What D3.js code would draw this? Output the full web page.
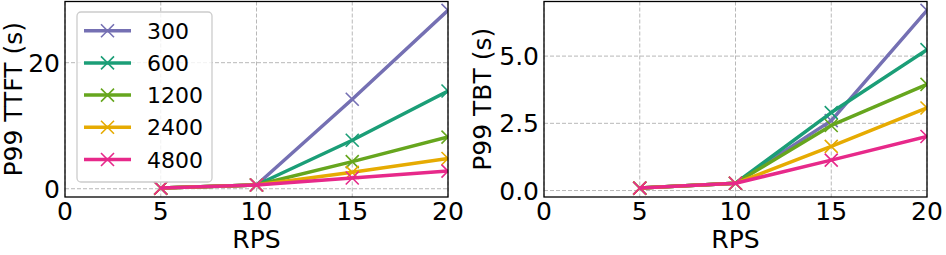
<!DOCTYPE html>
<html lang="en">
<head>
<meta charset="UTF-8">
<title>P99 latency vs RPS</title>
<script src="https://cdn.jsdelivr.net/npm/d3@7/dist/d3.min.js"></script>
<style>
    body { margin: 0; background: #fff; }
    svg { font-family: "DejaVu Sans", sans-serif; }
</style>
</head>
<body>
<div id="chart"></div>
<script>
// data
var rps = [5, 10, 15, 20];
var series = ["300", "600", "1200", "2400", "4800"];
var colors = ["#7570b3", "#1b9e77", "#66a61e", "#e6ab02", "#e7298a"];
var ttft = [
    [0.1, 0.6, 14.2, 28.3],
    [0.1, 0.6, 7.7, 15.5],
    [0.1, 0.6, 4.3, 8.2],
    [0.1, 0.6, 2.6, 4.8],
    [0.1, 0.6, 1.7, 2.8]
];
var tbt = [
    [0.09, 0.27, 2.6, 6.7],
    [0.09, 0.27, 2.9, 5.24],
    [0.09, 0.27, 2.42, 3.95],
    [0.09, 0.27, 1.64, 3.07],
    [0.09, 0.27, 1.13, 2.01]
];
var xTicks = [0, 5, 10, 15, 20];
var ttftTicks = [0, 20];
var tbtTicks = [0, 2.5, 5.0];

var W = 946, H = 255;
var svg = d3.select("#chart").append("svg")
    .attr("width", W).attr("height", H);

function panel(opts) {
    var vals = d3.merge(opts.data);
    var lo = d3.min(vals), hi = d3.max(vals), pad = (hi - lo) * 0.05;
    var x = d3.scaleLinear().domain([0, 20]).range([opts.left, opts.right]);
    var y = d3.scaleLinear().domain([lo - pad, hi + pad]).range([opts.bottom, opts.top]);
    var g = svg.append("g");

    g.append("clipPath").attr("id", opts.id)
        .append("rect")
        .attr("x", opts.left).attr("y", opts.top)
        .attr("width", opts.right - opts.left).attr("height", opts.bottom - opts.top);

    // grid
    g.selectAll(".gx").data(xTicks).enter().append("line")
        .attr("x1", d => x(d)).attr("x2", d => x(d))
        .attr("y1", opts.top).attr("y2", opts.bottom)
        .attr("stroke", "#b8b8b8").attr("stroke-width", 1).attr("stroke-dasharray", "4,2");
    g.selectAll(".gy").data(opts.yTicks).enter().append("line")
        .attr("x1", opts.left).attr("x2", opts.right)
        .attr("y1", d => y(d)).attr("y2", d => y(d))
        .attr("stroke", "#b8b8b8").attr("stroke-width", 1).attr("stroke-dasharray", "4,2");

    var plot = g.append("g").attr("clip-path", "url(#" + opts.id + ")");
    var line = d3.line().x((d, i) => x(rps[i])).y(d => y(d));
    opts.data.forEach(function (s, k) {
        plot.append("path").datum(s)
            .attr("d", line)
            .attr("fill", "none")
            .attr("stroke", colors[k])
            .attr("stroke-width", 3.5)
            .attr("stroke-linejoin", "round");
        plot.selectAll(".m" + k).data(s).enter().append("path")
            .attr("transform", (d, i) => "translate(" + x(rps[i]) + "," + y(d) + ")")
            .attr("d", "M-6.5,-6.5L6.5,6.5M-6.5,6.5L6.5,-6.5")
            .attr("stroke", colors[k])
            .attr("stroke-width", 1.6);
    });

    // frame
    g.append("rect")
        .attr("x", opts.left).attr("y", opts.top)
        .attr("width", opts.right - opts.left).attr("height", opts.bottom - opts.top)
        .attr("fill", "none").attr("stroke", "#000").attr("stroke-width", 1.3);

    // tick labels
    g.selectAll(".tx").data(xTicks).enter().append("text")
        .attr("x", d => x(d)).attr("y", opts.bottom + 23)
        .attr("text-anchor", "middle").attr("font-size", 25)
        .text(d => d);
    g.selectAll(".ty").data(opts.yTicks).enter().append("text")
        .attr("x", opts.left - 5).attr("y", d => y(d) + 9)
        .attr("text-anchor", "end").attr("font-size", 25)
        .text(opts.fmt);

    g.append("text")
        .attr("x", (opts.left + opts.right) / 2).attr("y", opts.bottom + 51)
        .attr("text-anchor", "middle").attr("font-size", 25)
        .text("RPS");
    g.append("text")
        .attr("transform", "translate(" + opts.labelX + "," + ((opts.top + opts.bottom) / 2) + ") rotate(-90)")
        .attr("text-anchor", "middle").attr("font-size", 25)
        .text(opts.ylabel);
    return g;
}

panel({ id: "clipA", data: ttft, yTicks: ttftTicks, fmt: d => d,
    left: 65, right: 448, top: 1.5, bottom: 197, labelX: 22, ylabel: "P99 TTFT (s)" });
panel({ id: "clipB", data: tbt, yTicks: tbtTicks, fmt: d3.format(".1f"),
    left: 544, right: 927, top: 1.5, bottom: 197, labelX: 491, ylabel: "P99 TBT (s)" });

// legend
var leg = svg.append("g");
leg.append("rect")
    .attr("x", 77).attr("y", 12).attr("width", 135).attr("height", 170)
    .attr("rx", 4).attr("fill", "#fff").attr("fill-opacity", 0.8)
    .attr("stroke", "#cccccc").attr("stroke-width", 1.3);
var rows = leg.selectAll(".row").data(series).enter().append("g")
    .attr("transform", (d, i) => "translate(0," + (30.7 + i * 32.2) + ")");
rows.append("line")
    .attr("x1", 84).attr("x2", 131).attr("y1", 0).attr("y2", 0)
    .attr("stroke", (d, i) => colors[i]).attr("stroke-width", 3.5);
rows.append("path")
    .attr("transform", "translate(107.5,0)")
    .attr("d", "M-6.5,-6.5L6.5,6.5M-6.5,6.5L6.5,-6.5")
    .attr("stroke", (d, i) => colors[i]).attr("stroke-width", 1.6);
rows.append("text")
    .attr("x", 147).attr("y", 8)
    .attr("font-size", 22)
    .text(d => d);
</script>
</body>
</html>
